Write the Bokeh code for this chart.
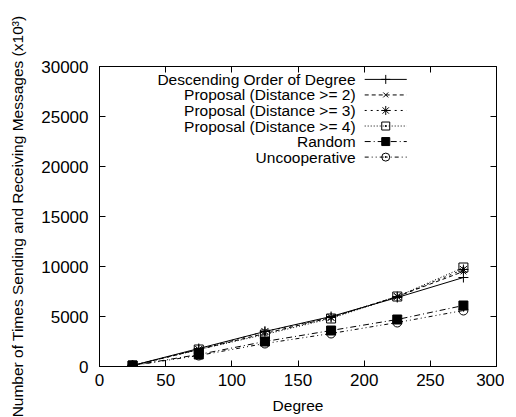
from bokeh.plotting import figure
from bokeh.models import LinearAxis, FixedTicker, BasicTickFormatter, Range1d, Label
from bokeh.embed import file_html
from bokeh.resources import INLINE

degree = [25, 75, 125, 175, 225, 275]
descending = [100, 1800, 3500, 5000, 6900, 8900]
proposal2 = [100, 1700, 3300, 4900, 7000, 9500]
proposal3 = [100, 1700, 3500, 4900, 7000, 9700]
proposal4 = [100, 1700, 3200, 4800, 7000, 9900]
random_sel = [100, 1200, 2500, 3600, 4700, 6100]
uncooperative = [100, 1100, 2300, 3300, 4400, 5600]

x_ticks = [0, 50, 100, 150, 200, 250, 300]
y_ticks = [0, 5000, 10000, 15000, 20000, 25000, 30000]
labels = ["Descending Order of Degree", "Proposal (Distance >= 2)",
          "Proposal (Distance >= 3)", "Proposal (Distance >= 4)",
          "Random", "Uncooperative"]

FONT = "Liberation Sans"

p = figure(frame_width=397, frame_height=300, output_backend="svg",
           toolbar_location=None, x_range=Range1d(0, 300), y_range=Range1d(0, 30000),
           min_border_left=99, min_border_top=66, min_border_right=8, min_border_bottom=8)
p.grid.visible = False
p.outline_line_color = "black"
p.outline_line_width = 1
p.background_fill_color = "white"
p.border_fill_color = "white"

def style_axis(ax, ticks, show_labels=True):
    ax.ticker = FixedTicker(ticks=ticks)
    ax.formatter = BasicTickFormatter(use_scientific=False)
    ax.major_tick_in = 6
    ax.major_tick_out = 0
    ax.minor_tick_line_color = None
    ax.axis_line_color = "black"
    ax.major_tick_line_color = "black"
    ax.major_label_text_font = FONT
    ax.major_label_text_font_size = "17px"
    ax.major_label_text_color = "black"
    ax.axis_label_text_font = FONT
    ax.axis_label_text_font_size = "15.5px"
    ax.axis_label_text_font_style = "normal"
    ax.axis_label_text_color = "black"
    if not show_labels:
        ax.major_label_overrides = {t: "" for t in ticks}
        ax.major_label_standoff = 0

style_axis(p.xaxis[0], x_ticks)
style_axis(p.yaxis[0], y_ticks)
p.xaxis[0].axis_label = "Degree"
p.xaxis[0].major_label_standoff = 7
p.xaxis[0].axis_label_standoff = 8
p.yaxis[0].axis_label = "Number of Times Sending and Receiving Messages (x10\u00b3)"
p.yaxis[0].major_label_standoff = 11
p.yaxis[0].axis_label_standoff = 12

top = LinearAxis()
style_axis(top, x_ticks[1:-1], show_labels=False)
p.add_layout(top, "above")
right = LinearAxis()
style_axis(right, y_ticks[1:-1], show_labels=False)
p.add_layout(right, "right")

series = [
    (descending, "solid", "cross", 10, "black"),
    (proposal2, "4 3", "x", 8, "black"),
    (proposal3, "2 4", "asterisk", 10, "black"),
    (proposal4, "1 2", "square_dot", 9, None),
    (random_sel, "6 3 1 3", "square", 9, "black"),
    (uncooperative, "4 3 1 3 1 3", "circle_dot", 9, None),
]

# legend geometry as fractions of the axis ranges (gnuplot style: text then sample)
xr = (0, 300)
yr = (0, 30000)
text_right_x = xr[0] + 0.645 * (xr[1] - xr[0])
sample_x0 = xr[0] + 0.668 * (xr[1] - xr[0])
sample_x1 = xr[0] + 0.774 * (xr[1] - xr[0])
sample_xm = (sample_x0 + sample_x1) / 2
row0 = yr[0] + 0.957 * (yr[1] - yr[0])
row_step = 0.0518 * (yr[1] - yr[0])

for i, (vals, dash, marker, size, fill) in enumerate(series):
    p.line(degree, vals, line_color="black", line_width=1, line_dash=dash)
    p.scatter(degree, vals, marker=marker, size=size, line_color="black",
              fill_color=fill if fill else "white", fill_alpha=1 if fill else 0, line_width=1)
    yy = row0 - i * row_step
    p.line([sample_x0, sample_x1], [yy, yy], line_color="black", line_width=1, line_dash=dash)
    p.scatter([sample_xm], [yy], marker=marker, size=size - 1, line_color="black",
              fill_color=fill if fill else "white", fill_alpha=1 if fill else 0, line_width=1)
    p.add_layout(Label(x=text_right_x, y=yy, text=labels[i], text_align="right",
                       text_baseline="middle", text_font=FONT, text_font_size="15.5px",
                       text_color="black"))

open("out.html", "w").write(file_html(p, INLINE))
